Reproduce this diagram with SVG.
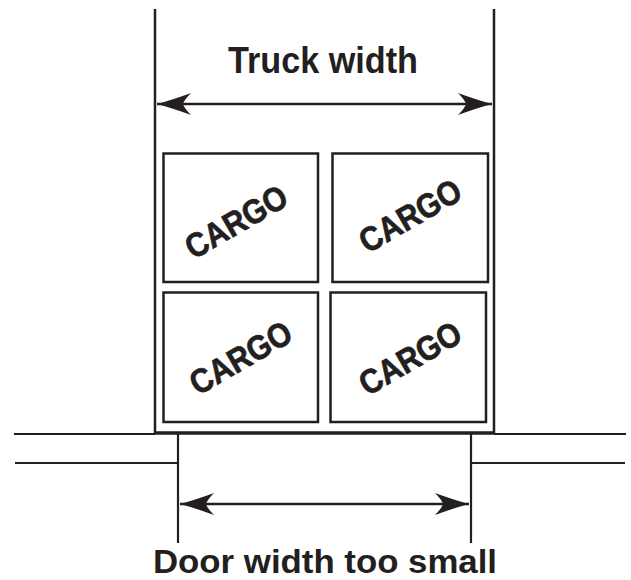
<svg xmlns="http://www.w3.org/2000/svg" width="631" height="580" viewBox="0 0 631 580">
<style>
.ln{stroke:#231f20;stroke-width:2.5;fill:none}
.box{stroke:#231f20;stroke-width:2.5;fill:#fff}
.lbl{font-family:"Liberation Sans",Arial,sans-serif;font-weight:bold;fill:#231f20}
.cargo{font-family:"Liberation Sans",Arial,sans-serif;font-weight:bold;fill:#231f20;font-size:34px;text-anchor:middle;stroke:#231f20;stroke-width:0.7}
</style>
<defs>
<marker id="ah" markerUnits="userSpaceOnUse" viewBox="-36 -12 38 24" refX="0" refY="0" markerWidth="38" markerHeight="24" orient="auto-start-reverse">
<path d="M0,0 Q-15,-4 -34,-11 Q-27,-4 -26,0 Q-27,4 -34,11 Q-15,4 0,0 Z" fill="#231f20"/>
</marker>
</defs>
<rect width="631" height="580" fill="#fff"/>
<g id="truck">
<line class="ln" x1="155" y1="9" x2="155" y2="434"/>
<line class="ln" x1="494" y1="9" x2="494" y2="434"/>
<line class="ln" x1="154" y1="433" x2="495" y2="433" style="stroke-width:3.5"/>
</g>
<g id="walls">
<line class="ln" x1="14" y1="434" x2="155" y2="434" style="stroke-width:2.2"/>
<line class="ln" x1="494" y1="434" x2="626" y2="434" style="stroke-width:2.2"/>
<line class="ln" x1="15" y1="463" x2="178" y2="463" style="stroke-width:2.2"/>
<line class="ln" x1="471" y1="463" x2="625" y2="463" style="stroke-width:2.2"/>
<line class="ln" x1="178" y1="434" x2="178" y2="543" style="stroke-width:2.2"/>
<line class="ln" x1="471" y1="434" x2="471" y2="543" style="stroke-width:2.2"/>
</g>
<g id="cargo1">
<rect class="box" x="163.5" y="153.5" width="154.5" height="128.5"/>
<text class="cargo" transform="translate(236,221.5) rotate(-30)" y="12" textLength="112" lengthAdjust="spacingAndGlyphs">CARGO</text>
</g>
<g id="cargo2">
<rect class="box" x="332.5" y="153.5" width="155.5" height="128.5"/>
<text class="cargo" transform="translate(410,215.5) rotate(-30)" y="12" textLength="112" lengthAdjust="spacingAndGlyphs">CARGO</text>
</g>
<g id="cargo3">
<rect class="box" x="163.5" y="292.5" width="154.5" height="129.5"/>
<text class="cargo" transform="translate(240.5,357.5) rotate(-30)" y="12" textLength="112" lengthAdjust="spacingAndGlyphs">CARGO</text>
</g>
<g id="cargo4">
<rect class="box" x="330.5" y="292.5" width="155.5" height="129.5"/>
<text class="cargo" transform="translate(410,358) rotate(-30)" y="12" textLength="112" lengthAdjust="spacingAndGlyphs">CARGO</text>
</g>
<g id="connectors">
<line class="ln" x1="157" y1="104" x2="492" y2="104" marker-start="url(#ah)" marker-end="url(#ah)"/>
<line class="ln" x1="180" y1="504" x2="469" y2="504" marker-start="url(#ah)" marker-end="url(#ah)"/>
</g>
<g id="labels">
<text class="lbl" x="323" y="73" font-size="36" text-anchor="middle" textLength="190" lengthAdjust="spacingAndGlyphs">Truck width</text>
<text class="lbl" x="325" y="573" font-size="34" text-anchor="middle" textLength="344" lengthAdjust="spacingAndGlyphs">Door width too small</text>
</g>
</svg>
